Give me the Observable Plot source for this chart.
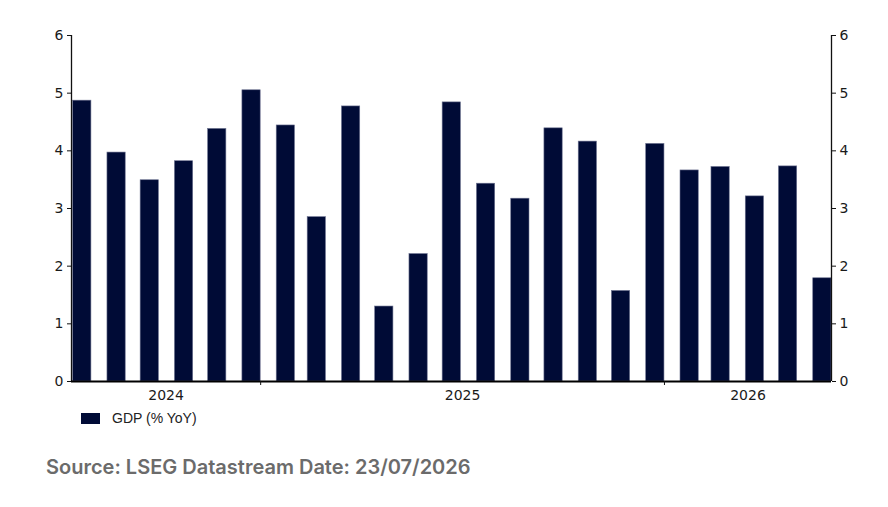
<!DOCTYPE html>
<html>
<head>
<meta charset="utf-8">
<script src="https://cdn.jsdelivr.net/npm/d3@7"></script>
<script src="https://cdn.jsdelivr.net/npm/@observablehq/plot@0.6"></script>
<style>
  body { margin: 0; background: #fff; }
  #chart { position: relative; width: 888px; }
  #chart svg text { font-family: "DejaVu Sans", Verdana, sans-serif; font-size: 14px; fill: #1a1a1a; }
  .legend { position: absolute; left: 81px; top: 410px; display: flex; align-items: center;
            font-family: "Liberation Sans", Arial, sans-serif; font-size: 14px; color: #222; }
  .legend .sw { width: 19px; height: 11px; background: #000b36; margin-right: 12px; }
  .caption { position: absolute; left: 46px; top: 455px; font-family: Inter, "Noto Sans", sans-serif;
             font-weight: 600; font-size: 20px; color: #6b6b6b; }
</style>
</head>
<body>
<div id="chart"></div>
<script>
const months = ["2024-07","2024-08","2024-09","2024-10","2024-11","2024-12",
  "2025-01","2025-02","2025-03","2025-04","2025-05","2025-06","2025-07","2025-08","2025-09","2025-10","2025-11","2025-12",
  "2026-01","2026-02","2026-03","2026-04","2026-05"];
const gdp = [4.87, 3.97, 3.49, 3.82, 4.38, 5.05,
  4.44, 2.85, 4.77, 1.30, 2.21, 4.84, 3.43, 3.17, 4.39, 4.16, 1.57, 4.12,
  3.66, 3.72, 3.21, 3.73, 1.79];
const yearLabels = ["2024","2025","2026"];
const yTicks = [0,1,2,3,4,5,6];
const seriesName = "GDP (% YoY)";
const source = "Source: LSEG Datastream Date: 23/07/2026";

const xStart = new Date(Date.UTC(2024, 6, 14));
const xEnd = new Date(Date.UTC(2026, 5, 1));

const data = months.map((m, i) => {
  const [y, mo] = m.split("-").map(Number);
  const end = new Date(Date.UTC(y, mo, 1));
  return { end, start: new Date(end.getTime() - 16.5 * 864e5), value: gdp[i] };
});

const yearStarts = yearLabels.slice(1).map(y => new Date(Date.UTC(+y, 0, 1)));
const yearMids = yearLabels.map(y => {
  const a = Math.max(xStart, Date.UTC(+y, 0, 1));
  const b = Math.min(xEnd, Date.UTC(+y + 1, 0, 1));
  return new Date((a + b) / 2);
});

const font = '"DejaVu Sans", Verdana, sans-serif';

const chart = Plot.plot({
  width: 888,
  height: 405,
  marginTop: 35,
  marginBottom: 24,
  marginLeft: 71,
  marginRight: 57,
  style: { fontFamily: font, fontSize: "14px", color: "#1a1a1a", background: "#fff" },
  x: { type: "utc", domain: [xStart, xEnd] },
  y: { domain: [0, 6] },
  marks: [
    Plot.rectY(data, { x1: "start", x2: "end", y: "value", fill: "#000b36", stroke: "#6c7290", strokeWidth: 0.6, clip: true }),
    Plot.ruleX([xStart, xEnd], { y1: 0, y2: 6, stroke: "#111", strokeWidth: 1.3 }),
    Plot.ruleY([0], { stroke: "#000", strokeWidth: 2.2 }),
    Plot.axisY({ anchor: "left", ticks: yTicks, tickSize: 4, tickPadding: 4, tickFormat: d3.format("d"), label: null, fontSize: 14, stroke: "#111" }),
    Plot.axisY({ anchor: "right", ticks: yTicks, tickSize: 4, tickPadding: 4, tickFormat: d3.format("d"), label: null, fontSize: 14, stroke: "#111" }),
    Plot.axisX({ ticks: yearStarts, tickSize: 4, tickFormat: () => "", label: null, stroke: "#111" }),
    Plot.axisX({ ticks: yearMids, tickSize: 0, tickPadding: 9, tickFormat: (d, i) => yearLabels[i], label: null, fontSize: 14 })
  ]
});

const root = document.getElementById("chart");
root.appendChild(chart);
const leg = document.createElement("div");
leg.className = "legend";
leg.innerHTML = `<span class="sw"></span><span></span>`;
leg.lastChild.textContent = seriesName;
root.appendChild(leg);
const cap = document.createElement("div");
cap.className = "caption";
cap.textContent = source;
root.appendChild(cap);
root.style.height = "507px";
</script>
</body>
</html>
